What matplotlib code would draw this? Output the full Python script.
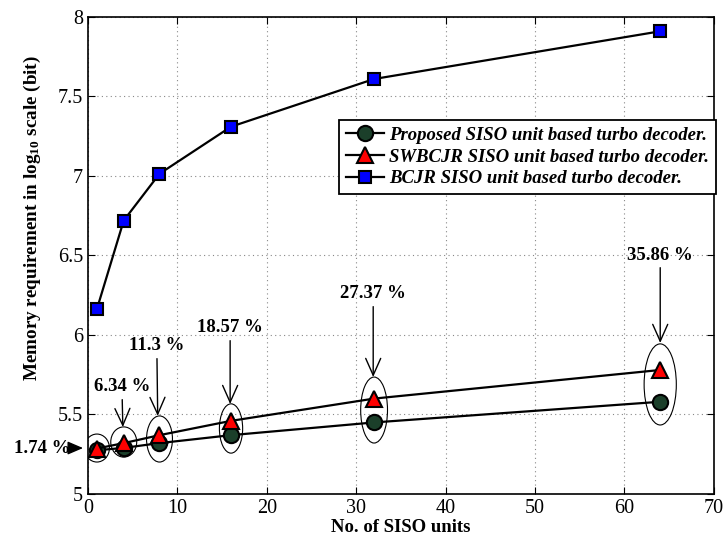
import matplotlib
matplotlib.use('Agg')
import matplotlib.pyplot as plt
from matplotlib.patches import Ellipse

plt.rcParams['font.family'] = ['Liberation Serif', 'DejaVu Serif']
plt.rcParams['mathtext.fontset'] = 'custom'
plt.rcParams['mathtext.rm'] = 'Liberation Serif'
plt.rcParams['mathtext.bf'] = 'Liberation Serif:bold'

# number of SISO units
siso_units = [1, 4, 8, 16, 32, 64]

# memory requirement, log10(bit)
proposed = [5.275, 5.29, 5.32, 5.37, 5.45, 5.58]
swbcjr = [5.286, 5.32, 5.37, 5.46, 5.60, 5.78]
bcjr = [6.163, 6.72, 7.014, 7.31, 7.61, 7.91]

# memory saving of the proposed decoder at each point
savings = ['1.74 %', '6.34 %', '11.3 %', '18.57 %', '27.37 %', '35.86 %']

legend_labels = ['Proposed SISO unit based turbo decoder.',
                 'SWBCJR SISO unit based turbo decoder.',
                 'BCJR SISO unit based turbo decoder.']

fig = plt.figure(figsize=(7.24, 5.39), dpi=100)
ax = fig.add_axes([0.1215, 0.0835, 0.8645, 0.885])

ax.plot(siso_units, proposed, '-o', color='k', lw=1.6, ms=11,
        mfc='#1b3f2a', mec='k', mew=1.5, label=legend_labels[0])
ax.plot(siso_units, swbcjr, '-^', color='k', lw=1.6, ms=11,
        mfc='red', mec='k', mew=1.5, label=legend_labels[1])
ax.plot(siso_units, bcjr, '-s', color='k', lw=1.6, ms=8.5,
        mfc='blue', mec='k', mew=1.5, label=legend_labels[2])

# ellipses around each pair of points
ell_w = [2.8, 2.9, 2.9, 2.6, 3.0, 3.6]
ell_h = [0.176, 0.19, 0.29, 0.31, 0.415, 0.51]
ell_y = [5.289, 5.327, 5.346, 5.412, 5.528, 5.689]
for x, y, w, h in zip(siso_units, ell_y, ell_w, ell_h):
    ax.add_patch(Ellipse((x, y), w, h, fill=False, ec='k', lw=0.8, zorder=4))

arrow = dict(arrowstyle='->,head_length=0.9,head_width=0.4', color='k', lw=1.0,
             shrinkA=1, shrinkB=0)

# first label sits left of the axis, pointing right
ax.annotate(savings[0], xy=(-0.55, ell_y[0]), xytext=(-1.9, ell_y[0]),
            ha='right', va='center', fontsize=13.5, fontweight='bold',
            arrowprops=dict(arrowstyle='-|>,head_length=0.7,head_width=0.3',
                            color='k', lw=1.0, shrinkA=1, shrinkB=0),
            annotation_clip=False)

text_pos = [(3.8, 5.673), (7.7, 5.931), (15.9, 6.044), (31.9, 6.258), (64.0, 6.503)]
tip_pos = [(3.9, 5.421), (7.8, 5.491), (15.9, 5.566), (31.9, 5.736), (64.0, 5.95)]
for lab, (tx, ty), (px, py) in zip(savings[1:], text_pos, tip_pos):
    ax.annotate(lab, xy=(px, py), xytext=(tx, ty), ha='center', va='center',
                fontsize=13.5, fontweight='bold', arrowprops=arrow)

ax.set_xlim(0, 70)
ax.set_ylim(5, 8)
ax.set_xticks(range(0, 71, 10))
ax.set_yticks([5, 5.5, 6, 6.5, 7, 7.5, 8])
ax.set_yticklabels(['5', '5.5', '6', '6.5', '7', '7.5', '8'])
ax.tick_params(direction='in', top=True, right=True, labelsize=14.5, length=5)
ax.grid(True, linestyle=(0, (1, 3)), color='#888888', lw=0.8)
for s in ax.spines.values():
    s.set_linewidth(1.2)

ax.set_xlabel('No. of SISO units', fontsize=13.5, fontweight='bold', labelpad=1)
ax.set_ylabel(r'Memory requirement in $\mathbf{log_{10}}$ scale (bit)',
              fontsize=13.8, fontweight='bold')
ax.yaxis.set_label_coords(-0.072, 0.579)

leg = ax.legend(loc='upper right', bbox_to_anchor=(1.003, 0.784),
                borderaxespad=0, fancybox=False, framealpha=1, edgecolor='k',
                prop={'family': 'Liberation Serif', 'weight': 'bold',
                      'style': 'italic', 'size': 13.5},
                handlelength=2.0, handletextpad=0.3, labelspacing=0.25,
                borderpad=0.35)
leg.get_frame().set_linewidth(1.3)

fig.savefig('out.png', dpi=100)
